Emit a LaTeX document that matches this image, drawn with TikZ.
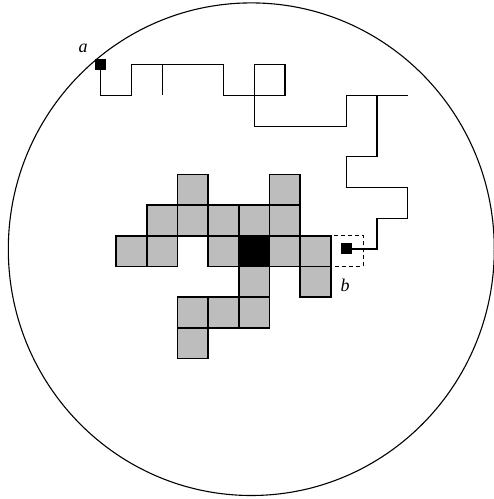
\documentclass[tikz,border=0pt]{standalone}
\usepackage{fontspec}
\setmainfont{Liberation Serif}
\begin{document}
\begin{tikzpicture}[x=1pt,y=-1pt,
  cellbox/.style={draw=black,line width=1.6pt,fill=black!26},
  corebox/.style={draw=black,line width=1.6pt,fill=black},
  walkline/.style={draw=black,line width=1.2pt,line join=miter},
  endsq/.style={fill=black,draw=none,minimum size=11pt,inner sep=0pt,outer sep=0pt},
  lbl/.style={font=\fontsize{18}{21}\selectfont\itshape,inner sep=0pt}]
\useasboundingbox (0,0) rectangle (494,499);
\draw[line width=1.1pt] (251.3,249.2) ellipse [x radius=243, y radius=246.3];
\node[lbl] (la) at (83,48) {a};
\node[lbl] (lb) at (345,285) {b};
\begin{scope}[shift={(254.2pt,-251.2pt)},x=30.7pt,y=-30.7pt]
  % cluster cells
  \foreach \c/\r in {-2/-2,1/-2,
                     -3/-1,-2/-1,-1/-1,0/-1,1/-1,
                     -4/0,-3/0,-1/0,1/0,2/0,
                     0/1,2/1,
                     -2/2,-1/2,0/2,
                     -2/3}
    \draw[cellbox] (\c-0.5,\r-0.5) rectangle (\c+0.5,\r+0.5);
  \draw[corebox] (-0.5,-0.5) rectangle (0.5,0.5);
  % dashed candidate cell
  \draw[line width=1.1pt,dash pattern=on 4pt off 3pt] (2.5,-0.5) rectangle (3.55,0.5);
\end{scope}
\begin{scope}[shift={(254.2pt,-248.9pt)},x=30.7pt,y=-30.7pt]
  % random walk
  \coordinate (A) at (-5,-6);
  \coordinate (B) at (3,0);
  \draw[walkline] (A) -- (-5,-5) -- (-4,-5) -- (-4,-6) -- (-1,-6) -- (-1,-5)
      -- (1,-5) -- (1,-6) -- (0,-6) -- (0,-4) -- (3,-4) -- (3,-5) -- (5,-5);
  \draw[walkline] (-3,-6) -- (-3,-5);
  \draw[walkline] (4,-5) -- (4,-3) -- (3,-3) -- (3,-2) -- (5,-2) -- (5,-1)
      -- (4,-1) -- (4,0) -- (B);
  \node[endsq] (sa) at (A) {};
  \node[endsq] (sb) at (B) {};
\end{scope}
\end{tikzpicture}
\end{document}
